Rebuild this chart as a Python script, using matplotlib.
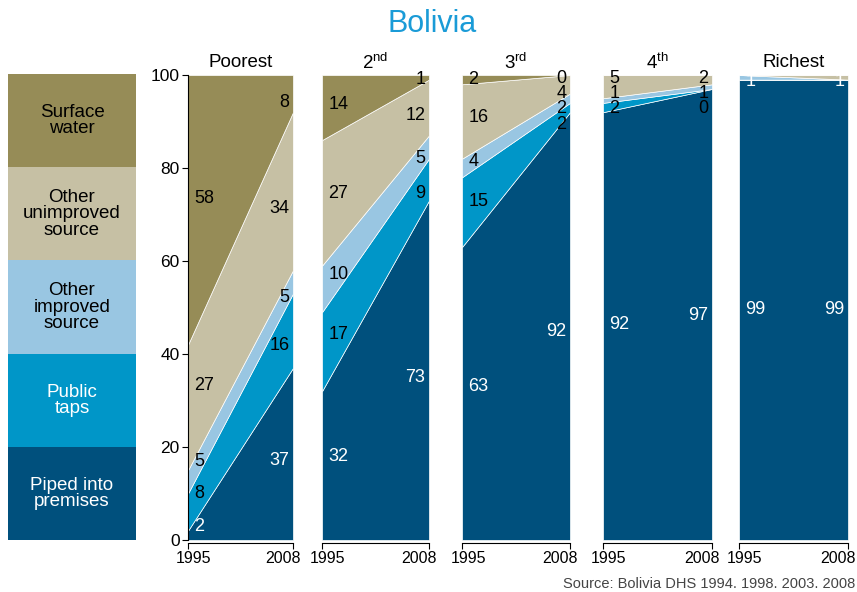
import matplotlib
matplotlib.use('Agg')
import matplotlib.pyplot as plt
import matplotlib.transforms as mtransforms
import numpy as np

plt.rcParams['font.family'] = ['Liberation Sans', 'DejaVu Sans']
plt.rcParams['mathtext.fontset'] = 'custom'
plt.rcParams['mathtext.rm'] = 'Liberation Sans'

# data (None = segment not labelled, drawn as 0)
years = [1995, 2008]
quintiles = ['Poorest', '2$^{\\rm nd}$', '3$^{\\rm rd}$', '4$^{\\rm th}$', 'Richest']

piped_1995 = [2, 32, 63, 92, 99]
piped_2008 = [37, 73, 92, 97, 99]
public_1995 = [8, 17, 15, 2, None]
public_2008 = [16, 9, 2, 0, None]
other_imp_1995 = [5, 10, 4, 1, 1]
other_imp_2008 = [5, 5, 2, 1, None]
unimp_1995 = [27, 27, 16, 5, None]
unimp_2008 = [34, 12, 4, 2, 1]
surface_1995 = [58, 14, 2, None, None]
surface_2008 = [8, 1, 0, None, None]

legend_labels = ['Piped into\npremises', 'Public\ntaps', 'Other\nimproved\nsource',
                 'Other\nunimproved\nsource', 'Surface\nwater']
legend_text_colors = ['white', 'white', 'black', 'black', 'black']
colors = ['#00507d', '#0096c8', '#99c6e2', '#c6c0a4', '#968c57']
title_color = '#1a9bd7'

series_1995 = [piped_1995, public_1995, other_imp_1995, unimp_1995, surface_1995]
series_2008 = [piped_2008, public_2008, other_imp_2008, unimp_2008, surface_2008]

W, H = 857, 592
fig = plt.figure(figsize=(W / 100, H / 100), dpi=100)


def px_axes(left, top, width, height):
    return fig.add_axes([left / W, 1 - (top + height) / H, width / W, height / H])


def num(v):
    return 0 if v is None else v


# legend boxes
lax = px_axes(8, 74, 128, 466)
lax.set_xlim(0, 1)
lax.set_ylim(0, 5)
lax.axis('off')
for i, (lab, col, tcol) in enumerate(zip(legend_labels, colors, legend_text_colors)):
    lax.axhspan(i, i + 1, color=col, lw=0)
    lax.text(0.5, i + 0.5, lab, ha='center', va='center', color=tcol,
             fontsize=13.5, linespacing=0.95)

fig.text(432 / W, 1 - 24 / H, 'Bolivia', ha='center', va='center',
         color=title_color, fontsize=22)

lefts = [188, 322, 462, 603, 739]
widths = [105, 107, 108, 109, 109]
gap = 3.3

for k, name in enumerate(quintiles):
    ax = px_axes(lefts[k], 75, widths[k], 465)
    raw95 = [s[k] for s in series_1995]
    raw08 = [s[k] for s in series_2008]
    v95 = np.array([num(v) for v in raw95], dtype=float)
    v08 = np.array([num(v) for v in raw08], dtype=float)
    ax.stackplot(years, np.column_stack([v95, v08]), colors=colors,
                 edgecolor='white', linewidth=0.5)
    ax.set_xlim(1995, 2008)
    ax.set_ylim(0, 100)

    for side in ['top', 'right']:
        ax.spines[side].set_visible(False)
    ax.spines['bottom'].set_position(('outward', 2))
    ax.spines['bottom'].set_linewidth(0.8)
    ax.set_xticks(years)
    ax.tick_params(axis='x', length=4, width=0.8, labelsize=11.5, pad=2)
    for lbl, dx in zip(ax.get_xticklabels(), [6, -10]):
        lbl.set_transform(lbl.get_transform() +
                          mtransforms.ScaledTranslation(dx / 100, 0, fig.dpi_scale_trans))
    if k == 0:
        ax.spines['left'].set_linewidth(0.8)
        ax.set_yticks(range(0, 101, 20))
        ax.tick_params(axis='y', length=4, width=0.8, labelsize=12.5, pad=2)
    else:
        ax.spines['left'].set_visible(False)
        ax.set_yticks([])

    ax.text(0.5, 1.027, name, transform=ax.transAxes, ha='center', va='center',
            fontsize=13.5)

    # value labels
    c95 = np.cumsum(v95)
    c08 = np.cumsum(v08)
    cap = 98.5 if k == 4 else 99.3
    for raw, f_mid, f_txt, ha in [(raw95, 0.1, 0.06, 'left'), (raw08, 0.92, 0.965, 'right')]:
        cum = c95 + (c08 - c95) * f_mid
        lower = np.concatenate([[0], cum[:-1]])
        mids = (lower + cum) / 2
        idx = [i for i in range(5) if raw[i] is not None]
        ys = [mids[i] for i in idx]
        ys[0] = max(ys[0], 3)
        for j in range(1, len(ys)):
            ys[j] = max(ys[j], ys[j - 1] + gap)
        ys[-1] = min(ys[-1], cap)
        for j in range(len(ys) - 2, -1, -1):
            ys[j] = min(ys[j], ys[j + 1] - gap)
        for i, y in zip(idx, ys):
            tcol = 'white' if (i == 0 or k == 4) else 'black'
            ax.text(1995 + 13 * f_txt, y, str(raw[i]), ha=ha, va='center',
                    color=tcol, fontsize=13)

fig.text(855 / W, 1 - 584 / H, 'Source: Bolivia DHS 1994. 1998. 2003. 2008',
         ha='right', va='center', color='#444444', fontsize=10.5)

fig.savefig('out.png', dpi=100)
